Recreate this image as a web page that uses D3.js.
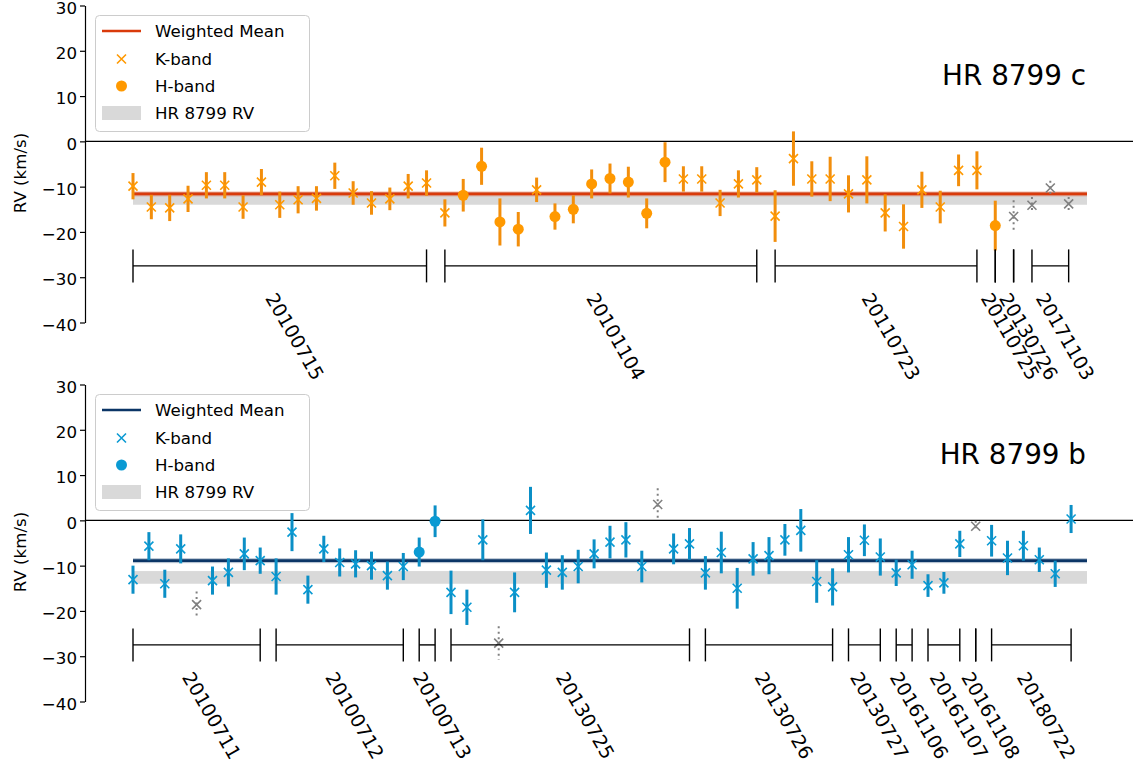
<!DOCTYPE html>
<html>
<head>
<meta charset="utf-8">
<script src="https://cdn.jsdelivr.net/npm/d3@7/dist/d3.min.js"></script>
<style>
    body { margin: 0; background: #fff; }
    svg { font-family: "DejaVu Sans", sans-serif; }
</style>
</head>
<body>
<svg id="chart" width="1133" height="763"></svg>
<script>
// HR 8799 c
var cValues = [-9.9, -14.5, -14.7, -12.7, -9.7, -9.7, -14.5, -9.0, -14.0, -12.9,
    -12.6, -7.6, -11.4, -13.6, -12.7, -9.9, -9.2, -15.8, -11.9, -5.5,
    -17.8, -19.4, -10.7, -16.6, -15.0, -9.4, -8.2, -9.0, -15.9, -4.6,
    -8.3, -8.3, -13.6, -9.4, -8.5, -16.5, -3.8, -8.3, -8.3, -11.6,
    -8.5, -15.8, -18.8, -10.7, -14.5, -6.4, -6.4, -18.6, -16.6, -14.1,
    -10.3, -13.8];
var cErrors = [2.9, 2.7, 2.9, 2.9, 2.9, 2.9, 2.6, 2.9, 2.9, 3.0,
    2.7, 2.9, 2.6, 2.6, 2.5, 2.7, 2.8, 3.0, 3.6, 4.1,
    5.2, 3.8, 2.7, 2.9, 3.1, 3.2, 3.3, 3.4, 3.3, 4.4,
    2.8, 2.8, 2.9, 3.0, 2.8, 5.7, 6.0, 3.9, 4.9, 4.1,
    5.2, 4.1, 4.9, 4.0, 3.6, 3.5, 4.2, 5.5, 3.6, 1.8,
    1.6, 1.5];
var cHBand = [18, 19, 20, 21, 23, 24, 25, 26, 27, 28, 29, 47];
var cExcluded = [48, 49, 50, 51];
var cDates = ['20100715', '20101104', '20110723', '20110725', '20130726', '20171103'];
var cStarts = [0, 17, 35, 47, 48, 49];
var cEnds = [16, 34, 46, 47, 48, 51];
var cMean = -11.6;

// HR 8799 b
var bValues = [-13.1, -5.7, -14.0, -6.3, -18.6, -13.3, -11.5, -7.4, -8.9, -12.4,
    -2.6, -15.3, -6.3, -9.3, -9.6, -10.0, -12.2, -10.2, -7.0, -0.2,
    -15.9, -19.2, -4.3, -27.1, -15.9, 2.2, -11.0, -11.5, -10.2, -7.4,
    -4.8, -4.3, -10.2, 3.5, -6.3, -5.2, -11.6, -7.1, -15.0, -8.5,
    -7.8, -4.3, -2.2, -13.5, -14.7, -7.6, -4.4, -8.1, -11.6, -9.8,
    -14.4, -13.8, -5.2, -1.3, -4.5, -8.3, -5.6, -8.7, -11.8, 0.3];
var bErrors = [3.1, 3.1, 3.1, 3.2, 2.9, 3.1, 3.1, 3.6, 2.9, 4.0,
    4.2, 3.1, 2.9, 3.1, 3.0, 3.1, 3.1, 3.0, 3.2, 3.5,
    4.8, 3.9, 4.5, 3.7, 4.4, 5.2, 3.9, 3.8, 3.7, 3.2,
    3.6, 3.9, 3.5, 3.6, 3.4, 3.5, 3.7, 4.6, 4.5, 3.7,
    4.1, 3.5, 4.7, 4.7, 4.1, 3.9, 3.5, 4.1, 2.9, 3.1,
    2.5, 2.4, 2.9, 1.2, 3.5, 3.8, 3.3, 2.7, 2.9, 3.1];
var bHBand = [18, 19];
var bExcluded = [4, 23, 33, 53];
var bDates = ['20100711', '20100712', '20100713', '20130725', '20130726',
    '20130727', '20161106', '20161107', '20161108', '20180722'];
var bStarts = [0, 9, 18, 20, 36, 45, 48, 50, 53, 54];
var bEnds = [8, 17, 19, 35, 44, 47, 49, 52, 53, 59];
var bMean = -8.9;

// star RV and its error
var starRV = -12.6;
var starErr = 1.4;
var yTicks = [-40, -30, -20, -10, 0, 10, 20, 30];
var legendLabels = ['Weighted Mean', 'K-band', 'H-band', 'HR 8799 RV'];

(function() {
    var svg = d3.select('#chart');
    var fontSize = 16.67;
    var xPath = 'M-4.5,-4.5L4.5,4.5M-4.5,4.5L4.5,-4.5';

    drawPanel({
        top: 0, values: cValues, errors: cErrors, hBand: cHBand, excluded: cExcluded,
        dates: cDates, starts: cStarts, ends: cEnds, mean: cMean, title: 'HR 8799 c',
        marker: '#ff9900', bar: '#f28e0c', meanColor: '#d93a0b', meanHalo: 'rgba(217,58,11,0.3)'
    });
    drawPanel({
        top: 379, values: bValues, errors: bErrors, hBand: bHBand, excluded: bExcluded,
        dates: bDates, starts: bStarts, ends: bEnds, mean: bMean, title: 'HR 8799 b',
        marker: '#0a9ad3', bar: '#0b8fc6', meanColor: '#0b3566', meanHalo: 'rgba(11,53,102,0.3)'
    });

    function drawPanel(p) {
        var n = p.values.length;
        var g = svg.append('g').attr('transform', 'translate(0,' + p.top + ')');
        var x = d3.scaleLinear().domain([0, n]).range([133, 1087]);
        var y = d3.scaleLinear().domain([-40, 30]).range([322.5, 5.5]);

        // y axis
        var axis = g.append('g')
            .attr('transform', 'translate(85,0)')
            .call(d3.axisLeft(y).tickValues(yTicks).tickSize(5).tickSizeOuter(0).tickPadding(3)
                .tickFormat(function(d) { return d < 0 ? '\u2212' + Math.abs(d) : d; }));
        axis.selectAll('text').attr('dy', '0.46em')
            .style('font-size', fontSize + 'px').style('font-family', '"DejaVu Sans", sans-serif').attr('fill', '#000');
        axis.selectAll('line').attr('stroke', '#000').attr('stroke-width', 1.2);
        axis.select('.domain').attr('stroke', '#000').attr('stroke-width', 1.2);

        g.append('text')
            .attr('transform', 'translate(26,173) rotate(-90)')
            .attr('text-anchor', 'middle')
            .style('font-size', fontSize + 'px')
            .text('RV (km/s)');

        // zero line
        g.append('line')
            .attr('x1', 85).attr('x2', 1133)
            .attr('y1', y(0)).attr('y2', y(0))
            .attr('stroke', '#000').attr('stroke-width', 1.3);

        // star RV band
        g.append('rect')
            .attr('x', x(0)).attr('width', x(n) - x(0))
            .attr('y', y(starRV + starErr)).attr('height', y(starRV - starErr) - y(starRV + starErr))
            .attr('fill', '#d9d9d9');

        // weighted mean
        g.append('rect')
            .attr('x', x(0)).attr('width', x(n) - x(0))
            .attr('y', y(p.mean + 0.55)).attr('height', y(p.mean - 0.55) - y(p.mean + 0.55))
            .attr('fill', p.meanHalo);
        g.append('line')
            .attr('x1', x(0)).attr('x2', x(n))
            .attr('y1', y(p.mean)).attr('y2', y(p.mean))
            .attr('stroke', p.meanColor).attr('stroke-width', 2.6);

        var idx = d3.range(n);
        var good = idx.filter(function(i) { return p.excluded.indexOf(i) < 0; });
        var bad = idx.filter(function(i) { return p.excluded.indexOf(i) >= 0; });

        // error bars
        g.selectAll('.err').data(good).enter().append('line')
            .attr('x1', function(i) { return x(i); }).attr('x2', function(i) { return x(i); })
            .attr('y1', function(i) { return y(p.values[i] + p.errors[i]); })
            .attr('y2', function(i) { return y(p.values[i] - p.errors[i]); })
            .attr('stroke', p.bar).attr('stroke-width', 3);
        g.selectAll('.errx').data(bad).enter().append('line')
            .attr('x1', function(i) { return x(i); }).attr('x2', function(i) { return x(i); })
            .attr('y1', function(i) { return y(p.values[i] + p.errors[i]); })
            .attr('y2', function(i) { return y(p.values[i] - p.errors[i]); })
            .attr('stroke', '#808080').attr('stroke-width', 2)
            .attr('stroke-dasharray', '2,3.5');

        // markers
        g.selectAll('.kx').data(good.filter(function(i) { return p.hBand.indexOf(i) < 0; })).enter().append('path')
            .attr('d', xPath)
            .attr('transform', function(i) { return 'translate(' + x(i) + ',' + y(p.values[i]) + ')'; })
            .attr('fill', 'none').attr('stroke', p.marker).attr('stroke-width', 1.6);
        g.selectAll('.hx').data(good.filter(function(i) { return p.hBand.indexOf(i) >= 0; })).enter().append('circle')
            .attr('cx', function(i) { return x(i); })
            .attr('cy', function(i) { return y(p.values[i]); })
            .attr('r', 5.5).attr('fill', p.marker);
        g.selectAll('.gx').data(bad).enter().append('path')
            .attr('d', xPath)
            .attr('transform', function(i) { return 'translate(' + x(i) + ',' + y(p.values[i]) + ')'; })
            .attr('fill', 'none').attr('stroke', '#808080').attr('stroke-width', 1.6);

        // date brackets
        var by = y(-27.5);
        p.dates.forEach(function(d, k) {
            var x0 = x(p.starts[k]);
            var x1 = x(p.ends[k]);
            g.append('line').attr('x1', x0).attr('x2', x1).attr('y1', by).attr('y2', by)
                .attr('stroke', '#000').attr('stroke-width', 1.4);
            g.append('line').attr('x1', x0).attr('x2', x0).attr('y1', by - 16.5).attr('y2', by + 16.5)
                .attr('stroke', '#000').attr('stroke-width', 1.4);
            g.append('line').attr('x1', x1).attr('x2', x1).attr('y1', by - 16.5).attr('y2', by + 16.5)
                .attr('stroke', '#000').attr('stroke-width', 1.4);
            var cx = (x0 + x1) / 2 - 15;
            g.append('text')
                .attr('transform', 'translate(' + cx + ',' + (by + 32) + ') rotate(60)')
                .style('font-size', '19px')
                .text(d);
        });

        // title
        g.append('text')
            .attr('x', 1086).attr('y', 85)
            .attr('text-anchor', 'end')
            .style('font-size', '27.8px')
            .text(p.title);

        // legend
        var lg = g.append('g');
        lg.append('rect')
            .attr('x', 95.5).attr('y', 15.5).attr('width', 214).attr('height', 116)
            .attr('rx', 4).attr('fill', '#fff').attr('fill-opacity', 0.8)
            .attr('stroke', '#cccccc');
        var rows = [31, 59, 86, 113];
        lg.append('line').attr('x1', 102).attr('x2', 141).attr('y1', rows[0]).attr('y2', rows[0])
            .attr('stroke', p.meanColor).attr('stroke-width', 2.6);
        lg.append('path').attr('d', xPath).attr('transform', 'translate(121.5,' + rows[1] + ')')
            .attr('fill', 'none').attr('stroke', p.marker).attr('stroke-width', 1.6);
        lg.append('circle').attr('cx', 121.5).attr('cy', rows[2]).attr('r', 5.5).attr('fill', p.marker);
        lg.append('rect').attr('x', 102).attr('y', rows[3] - 7).attr('width', 39).attr('height', 14)
            .attr('fill', '#d9d9d9');
        legendLabels.forEach(function(t, k) {
            lg.append('text')
                .attr('x', 155).attr('y', rows[k] + 6)
                .style('font-size', fontSize + 'px')
                .text(t);
        });
    }
})();
</script>
</body>
</html>
